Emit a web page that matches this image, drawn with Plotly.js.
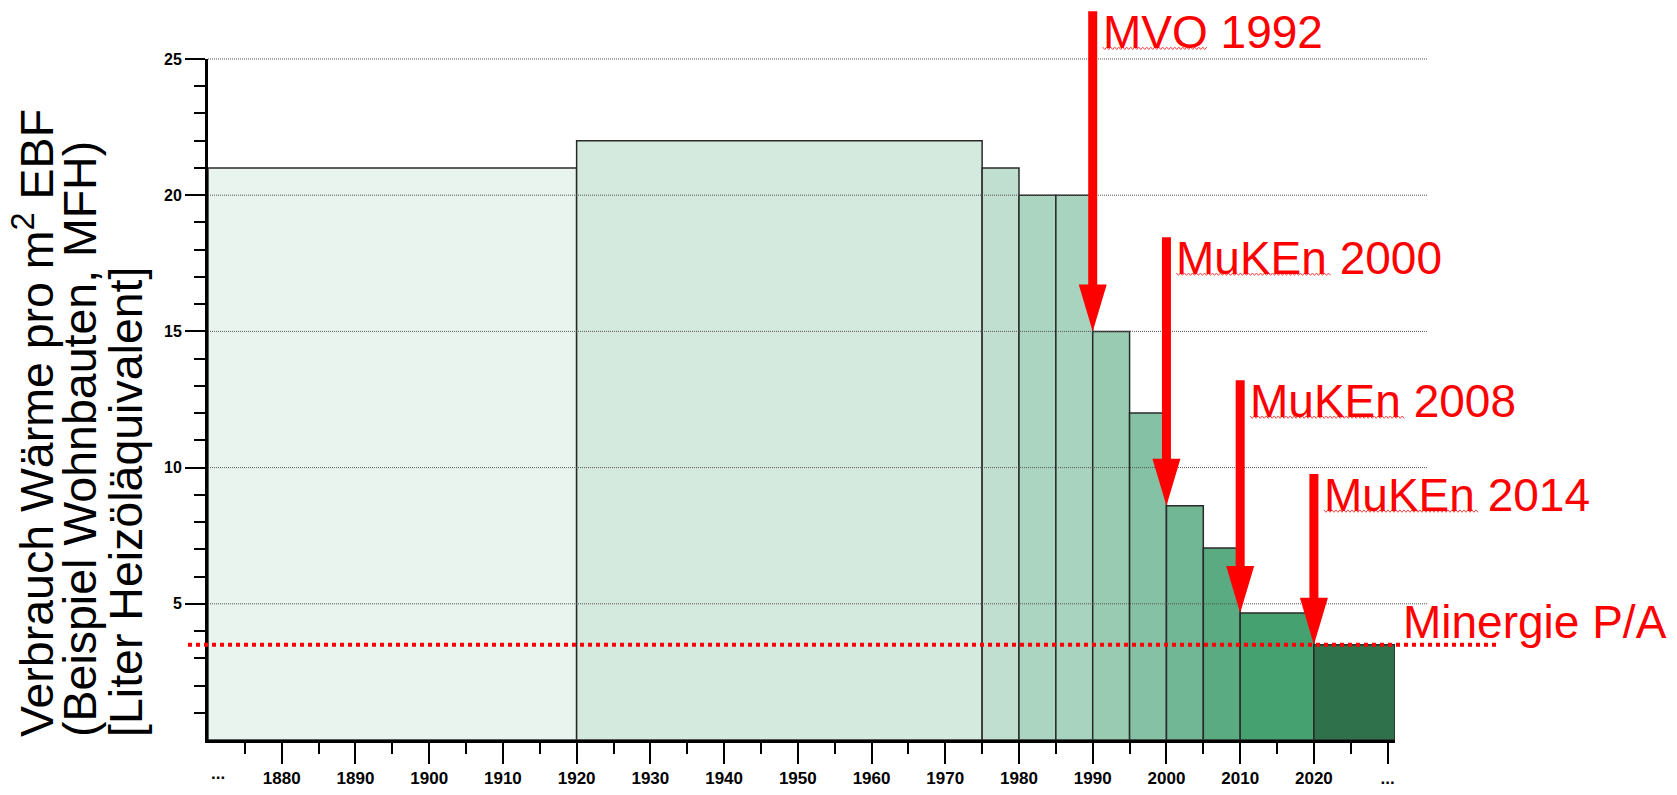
<!DOCTYPE html>
<html>
<head>
<meta charset="utf-8">
<script src="https://cdn.plot.ly/plotly-3.0.1.min.js"></script>
<style>html,body{margin:0;padding:0;background:#fff;}#chart{width:1677px;height:795px;}</style>
</head>
<body>
<div id="chart"></div>
<script>
// ---- data ----
const periodStart = [1870, 1920, 1975, 1980, 1985, 1990, 1995, 2000, 2005, 2010, 2020];
const periodEnd   = [1920, 1975, 1980, 1985, 1990, 1995, 2000, 2005, 2010, 2020, 2031];
const consumption = [21, 22, 21, 20, 20, 15, 12, 8.6, 7.05, 4.66, 3.5];
const barColors = ['#eaf4ee', '#d5eadf', '#c1dfd0', '#acd5c1', '#a8d3be', '#98cbb2', '#85c1a4', '#72b795', '#5aaa82', '#46a171', '#2f714a'];
const xTickVals = [1880, 1890, 1900, 1910, 1920, 1930, 1940, 1950, 1960, 1970, 1980, 1990, 2000, 2010, 2020, 2030];
const xTickText = ['1880', '1890', '1900', '1910', '1920', '1930', '1940', '1950', '1960', '1970', '1980', '1990', '2000', '2010', '2020', '...'];
const xMinorVals = [1875, 1885, 1895, 1905, 1915, 1925, 1935, 1945, 1955, 1965, 1975, 1985, 1995, 2005, 2015, 2025];
const yTickVals = [5, 10, 15, 20, 25];
const yMinorVals = [1, 2, 3, 4, 6, 7, 8, 9, 11, 12, 13, 14, 16, 17, 18, 19, 21, 22, 23, 24];
const gridVals = [5, 10, 15, 20, 25];
const minergieLevel = 3.5;
const regulationLabels = ['MVO 1992', 'MuKEn 2000', 'MuKEn 2008', 'MuKEn 2014'];
const regulationBar = [5, 7, 9, 10]; // index of the bar each arrow points to
const titleLines = ['Verbrauch Wärme pro m<sup>2</sup> EBF', '(Beispiel Wohnbauten, MFH)', '[Liter Heizöläquivalent]'];

// ---- geometry (layout only) ----
const W = 1677, H = 795;
const mL = 208, mR = 282.4, mT = 58.7, mB = 55;
const plotW = W - mL - mR, plotH = H - mT - mB;
const xRange = [1870, 2031], yRange = [0, 25];
const pxX = px => (px - mL) / plotW;
const pxY = py => (H - mB - py) / plotH;
const xP = v => (v - xRange[0]) / (xRange[1] - xRange[0]);
const yP = v => (v - yRange[0]) / (yRange[1] - yRange[0]);
const toPx = v => mL + xP(v) * plotW;
const FONT = 'Liberation Sans, Arial, Helvetica, sans-serif';
const RED = '#ff0000';

const xs = periodStart.map((s, i) => (s + periodEnd[i]) / 2);
const ws = periodStart.map((s, i) => periodEnd[i] - s);

const trace = {
  type: 'bar', x: xs, y: consumption, width: ws,
  marker: { color: barColors, line: { color: '#2a2a2a', width: 1.5 } },
  hoverinfo: 'skip'
};

const shapes = [];
// dotted grid lines (drawn above the bars, extend right of the plot)
gridVals.forEach(v => {
  shapes.push({ type: 'line', xref: 'paper', yref: 'paper', x0: 0, x1: pxX(1427), y0: yP(v), y1: yP(v),
    line: { color: '#555', width: 1, dash: '1px,1px' }, layer: 'above' });
});
// Minergie dotted red line
shapes.push({ type: 'line', xref: 'paper', yref: 'paper', x0: pxX(188), x1: pxX(1497), y0: yP(minergieLevel), y1: yP(minergieLevel),
  line: { color: RED, width: 4, dash: 'dot' }, layer: 'above' });

// wavy spell-check underline (decoration)
function wave(x0px, x1px, ypx) {
  let d = '';
  let up = true;
  for (let x = x0px; x <= x1px; x += 2) {
    const y = ypx + (up ? -1.2 : 1.2);
    d += (d ? ' L ' : 'M ') + pxX(x) + ' ' + pxY(y);
    up = !up;
  }
  return { type: 'path', xref: 'paper', yref: 'paper', path: d, line: { color: '#ff4040', width: 1 }, layer: 'above' };
}

// arrows
const arrowTopPx = [11, 237, 380, 474];
const underlineLen = [105, 155, 155, 155];
const headW = 28 / plotW, headH = 47 / plotH;
const annotations = [];
regulationLabels.forEach((lab, k) => {
  const bi = regulationBar[k];
  const yr = periodStart[bi];
  const tip = yP(consumption[bi]);
  const xc = xP(yr);
  shapes.push({ type: 'line', xref: 'paper', yref: 'paper', x0: xc, x1: xc, y0: pxY(arrowTopPx[k]), y1: tip + headH * 0.9,
    line: { color: RED, width: 9 }, layer: 'above' });
  shapes.push({ type: 'path', xref: 'paper', yref: 'paper',
    path: `M ${xc - headW / 2} ${tip + headH} L ${xc + headW / 2} ${tip + headH} L ${xc} ${tip} Z`,
    fillcolor: RED, line: { color: RED, width: 0 }, layer: 'above' });
  annotations.push({ xref: 'paper', yref: 'paper', x: xc, xshift: 8, xanchor: 'left',
    y: pxY(arrowTopPx[k]), yshift: 7.5, yanchor: 'top', showarrow: false, text: lab,
    font: { family: FONT, size: 46, color: RED } });
  const tx = toPx(yr) + 10;
  shapes.push(wave(tx, tx + underlineLen[k], arrowTopPx[k] + 37));
});
annotations.push({ xref: 'paper', yref: 'paper', x: pxX(1401), xanchor: 'left', y: pxY(603), yshift: 9.5, yanchor: 'top',
  showarrow: false, text: 'Minergie P/A', font: { family: FONT, size: 46, color: RED } });
// leading "..." on x axis
annotations.push({ xref: 'paper', yref: 'paper', x: pxX(218), xanchor: 'center', y: pxY(774), yanchor: 'middle',
  showarrow: false, text: '...', font: { family: FONT, size: 17, color: '#000', weight: 'bold' } });
// y title (three lines)
const titleCx = [34, 80, 126];
titleLines.forEach((t, i) => {
  annotations.push({ xref: 'paper', yref: 'paper', x: pxX(titleCx[i]), xanchor: 'center', y: pxY(739), yanchor: 'bottom',
    textangle: -90, showarrow: false, text: t, font: { family: FONT, size: 46.5, color: '#000' } });
});

const layout = {
  width: W, height: H,
  margin: { l: mL, r: mR, t: mT, b: mB, autoexpand: false },
  paper_bgcolor: '#fff', plot_bgcolor: '#fff',
  showlegend: false,
  xaxis: {
    range: xRange, showgrid: false, zeroline: false,
    showline: true, linecolor: '#000', linewidth: 3,
    ticks: 'outside', ticklen: 21, tickwidth: 2, tickcolor: '#000',
    tickmode: 'array', tickvals: xTickVals, ticktext: xTickText,
    tickfont: { family: FONT, size: 17, color: '#000', weight: 'bold' },
    minor: { tickmode: 'array', tickvals: xMinorVals, ticks: 'outside', ticklen: 11, tickwidth: 2, tickcolor: '#000', showgrid: false },
    fixedrange: true
  },
  yaxis: {
    range: yRange, showgrid: false, zeroline: false,
    showline: true, linecolor: '#000', linewidth: 3,
    ticks: 'outside', ticklen: 20, tickwidth: 2, tickcolor: '#000',
    tickmode: 'array', tickvals: yTickVals, ticktext: yTickVals.map(String),
    tickfont: { family: FONT, size: 16, color: '#000', weight: 'bold' },
    minor: { tickmode: 'array', tickvals: yMinorVals, ticks: 'outside', ticklen: 11, tickwidth: 2, tickcolor: '#000', showgrid: false },
    fixedrange: true
  },
  shapes: shapes,
  annotations: annotations
};

Plotly.newPlot('chart', [trace], layout, { staticPlot: true, displayModeBar: false });
</script>
</body>
</html>
